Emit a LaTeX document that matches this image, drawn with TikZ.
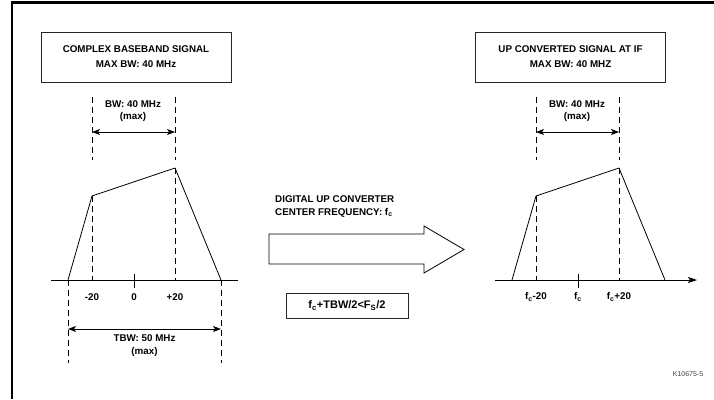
\documentclass[tikz,border=0pt]{standalone}
\usepackage{fontspec}
\setmainfont{Liberation Sans}
\usetikzlibrary{arrows.meta,positioning}

\tikzset{
  titlebox/.style={draw=black!85, line width=0.8pt, minimum width=190pt,
    minimum height=50pt, align=center, inner sep=0pt,
    font=\bfseries\fontsize{9.8}{15}\selectfont},
  lbl/.style={align=center, inner sep=0pt, font=\bfseries\fontsize{9.8}{12.5}\selectfont},
  dashline/.style={line width=0.8pt, dash pattern=on 6pt off 4pt},
  dimarrow/.style={line width=0.8pt,
    {Stealth[length=8pt,width=6pt,inset=2pt]}-{Stealth[length=8pt,width=6pt,inset=2pt]}},
  spec/.style={line width=0.8pt, line join=round},
}

\begin{document}
\begin{tikzpicture}[x=1pt,y=-1pt]
\useasboundingbox (0,0) rectangle (714,399);
% draw the frame
\draw[line width=2.2pt] (12,399) -- (12,2.5) -- (714,2.5);

% draw the title boxes
\node[titlebox] (basebox) at (136,57) {COMPLEX BASEBAND SIGNAL\\MAX BW: 40 MHz};
\node[titlebox] (ifbox) at (570.5,57) {UP CONVERTED SIGNAL AT IF\\MAX BW: 40 MHZ};

% ---------- baseband spectrum ----------
\coordinate (bl) at (68,280);
\coordinate (bc) at (92,196);
\coordinate (bp) at (175,168);
\coordinate (br) at (221,280);
\draw[spec] (51,280) -- (238,280);
\draw[spec] (bl) -- (bc) -- (bp) -- (br);
% draw the tick at zero
\draw[spec] (134,274) -- (134,288);
% draw dashed lines
\draw[dashline] (92,97) -- (92,160);
\draw[dashline] (175,97) -- (175,160);
\draw[dashline] (bc) -- (92,280);
\draw[dashline] (bp) -- (175,280);
\draw[dashline] (bl) -- (68,363);
\draw[dashline] (br) -- (221,363);
% draw the bandwidth arrows
\coordinate (bwl) at (92,132);
\coordinate (bwr) at (175,132);
\draw[dimarrow] (bwl) -- (bwr);
\node[lbl] (bwlbl) at (133,111) {BW: 40 MHz\\(max)};
\coordinate (tbwl) at (68,329);
\coordinate (tbwr) at (221,329);
\draw[dimarrow] (tbwl) -- (tbwr);
\node[lbl] (tbwlbl) at (144.5,345.5) {TBW: 50 MHz\\(max)};
% draw the axis labels
\foreach \x/\t/\n in {92/-20/bm, 134/0/bz, 175/+20/bp}
  \node[lbl] (\n lbl) at (\x,297) {\t};

% ---------- up converter ----------
\node[lbl, align=left, anchor=west] (duc) at (275,206.5)
  {DIGITAL UP CONVERTER\\CENTER FREQUENCY: f\textsubscript{c}};
\draw[line width=0.8pt, line join=miter] (269,234) -- (424,234) -- (424,226)
  -- (464,249.5) -- (424,273) -- (424,264) -- (269,264) -- cycle;
\node[draw=black!85, line width=0.8pt, minimum width=122pt, minimum height=25pt,
  font=\bfseries\fontsize{11}{13}\selectfont] (cond) at (347,305.5)
  {f\textsubscript{c}+TBW/2<F\textsubscript{S}/2};

% ---------- IF spectrum ----------
\coordinate (il) at (512,280);
\coordinate (ic) at (536,196);
\coordinate (ip) at (619,168);
\coordinate (ir) at (665,280);
\draw[spec, -{Stealth[length=9pt,width=6pt,inset=2pt]}] (495,280) -- (697,280);
\draw[spec] (il) -- (ic) -- (ip) -- (ir);
% draw the tick at fc
\draw[spec] (578,274) -- (578,288);
% draw dashed lines
\draw[dashline] (536,97) -- (536,160);
\draw[dashline] (619,97) -- (619,160);
\draw[dashline] (ic) -- (536,280);
\draw[dashline] (ip) -- (619,280);
% draw the bandwidth arrow
\coordinate (ibwl) at (536,132);
\coordinate (ibwr) at (619,132);
\draw[dimarrow] (ibwl) -- (ibwr);
\node[lbl] (ibwlbl) at (577,111) {BW: 40 MHz\\(max)};
% draw the axis labels
\foreach \x/\t/\n in {536/f\textsubscript{c}-20/im, 578/f\textsubscript{c}/iz, 619/f\textsubscript{c}+20/ip}
  \node[lbl] (\n lbl) at (\x,297) {\t};

\node[font=\fontsize{7}{8}\selectfont, text=black!75, inner sep=0pt] (fig) at (688,374) {K10675-5};
\end{tikzpicture}
\end{document}
